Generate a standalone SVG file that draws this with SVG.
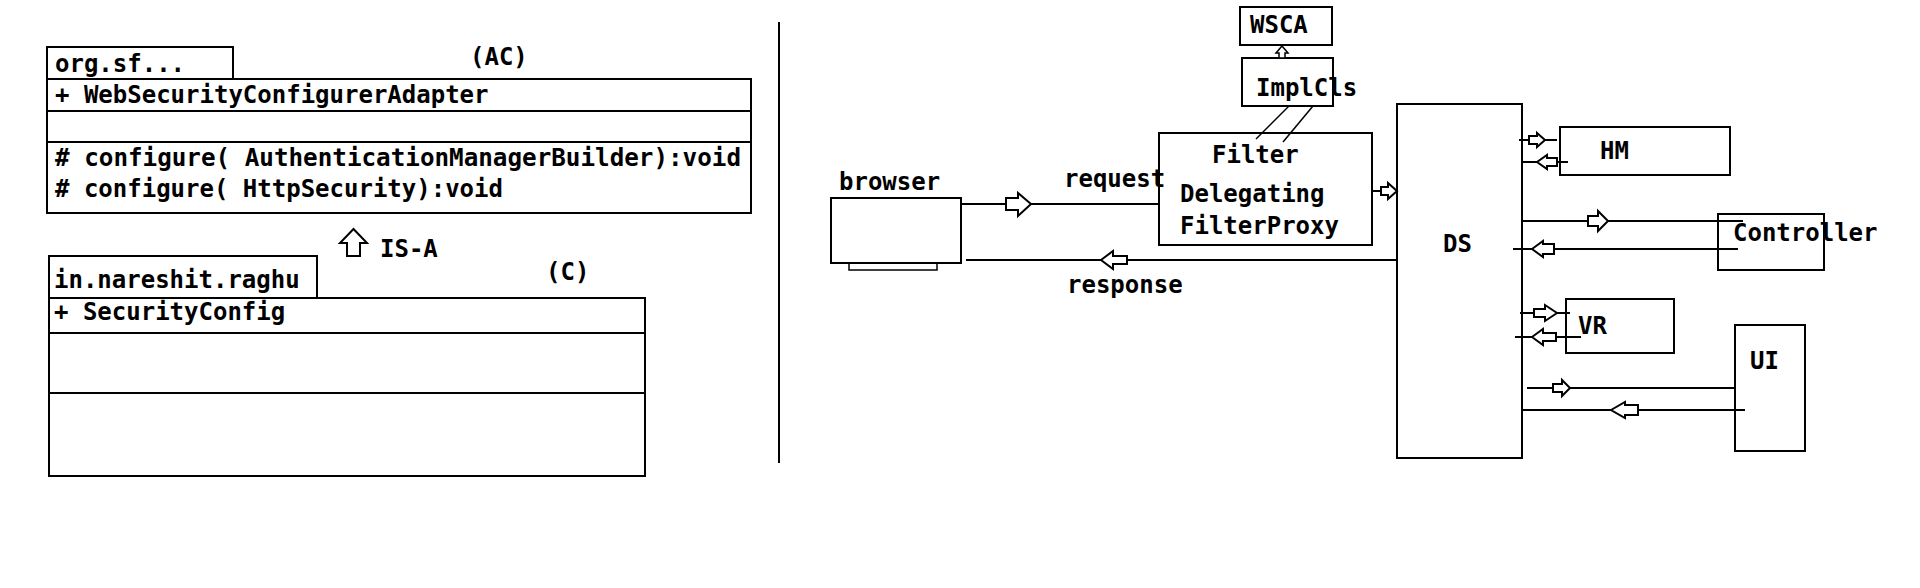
<svg xmlns="http://www.w3.org/2000/svg" width="1920" height="588" viewBox="0 0 1920 588">
<style>
  .box{fill:none;stroke:#000;stroke-width:2}
  .ln{stroke:#000;stroke-width:2;fill:none}
  .thin{stroke:#000;stroke-width:1.5;fill:none}
  .ha{fill:#fff;stroke:#000;stroke-width:2;stroke-linejoin:miter}
  text{font-family:"DejaVu Sans Mono","Liberation Mono",monospace;font-weight:bold;font-size:24px;fill:#000}
</style>
<rect width="1920" height="588" fill="#fff"/>

<g id="ac-class">
  <rect class="box" x="47" y="47" width="186" height="32"/>
  <text x="55" y="72">org.sf...</text>
  <rect class="box" x="47" y="79" width="704" height="134"/>
  <line class="ln" x1="47" y1="111" x2="751" y2="111"/>
  <line class="ln" x1="47" y1="142" x2="751" y2="142"/>
  <text x="55" y="103">+ WebSecurityConfigurerAdapter</text>
  <text x="55" y="166" textLength="686" lengthAdjust="spacingAndGlyphs"># configure( AuthenticationManagerBuilder):void</text>
  <text x="55" y="197"># configure( HttpSecurity):void</text>
  <text x="470" y="65">(AC)</text>
</g>

<g id="isa">
  <polygon class="ha" points="353.5,229 367,243 360,243 360,256 347,256 347,243 340,243"/>
  <text x="380" y="257">IS-A</text>
</g>

<g id="c-class">
  <rect class="box" x="49" y="256" width="268" height="42"/>
  <text x="54" y="288">in.nareshit.raghu</text>
  <rect class="box" x="49" y="298" width="596" height="178"/>
  <line class="ln" x1="49" y1="333" x2="645" y2="333"/>
  <line class="ln" x1="49" y1="393" x2="645" y2="393"/>
  <text x="54" y="320">+ SecurityConfig</text>
  <text x="546" y="280">(C)</text>
</g>

<g id="divider">
  <line class="ln" x1="779" y1="22" x2="779" y2="463"/>
</g>

<g id="browser">
  <rect class="box" x="831" y="198" width="130" height="65"/>
  <rect class="thin" x="849" y="263" width="88" height="7"/>
  <text x="839" y="190">browser</text>
</g>

<g id="wsca">
  <rect class="box" x="1240" y="7" width="92" height="38"/>
  <text x="1250" y="33">WSCA</text>
</g>

<g id="implcls">
  <rect class="box" x="1242" y="58" width="91" height="48"/>
  <text x="1256" y="96">ImplCls</text>
</g>

<g id="filter">
  <rect class="box" x="1159" y="133" width="213" height="112"/>
  <text x="1212" y="163">Filter</text>
  <text x="1180" y="202">Delegating</text>
  <text x="1180" y="234">FilterProxy</text>
</g>

<g id="ds">
  <rect class="box" x="1397" y="104" width="125" height="354"/>
  <text x="1443" y="252">DS</text>
</g>

<g id="hm">
  <rect class="box" x="1560" y="127" width="170" height="48"/>
  <text x="1600" y="159">HM</text>
</g>

<g id="controller">
  <rect class="box" x="1718" y="214" width="106" height="56"/>
  <text x="1733" y="241">Controller</text>
</g>

<g id="vr">
  <rect class="box" x="1566" y="299" width="108" height="54"/>
  <text x="1578" y="334">VR</text>
</g>

<g id="ui">
  <rect class="box" x="1735" y="325" width="70" height="126"/>
  <text x="1750" y="369">UI</text>
</g>

<g id="connectors">
  <polygon class="ha" points="1282,46 1288,53 1285,53 1285,58 1279,58 1279,53 1276,53" style="stroke-width:1.5"/>
  <line class="thin" x1="1289" y1="106" x2="1256" y2="139"/>
  <line class="thin" x1="1313" y1="106" x2="1283" y2="142"/>
  <line class="ln" x1="961" y1="204" x2="1159" y2="204"/>
  <polygon class="ha" points="1006,198 1018,198 1018,193 1031,204 1018,216 1018,210 1006,210"/>
  <text x="1064" y="187">request</text>
  <line class="ln" x1="966" y1="260" x2="1397" y2="260"/>
  <polygon class="ha" points="1101,260 1113,251 1113,256 1127,256 1127,264 1113,264 1113,269"/>
  <text x="1067" y="293">response</text>
  <line class="ln" x1="1372" y1="191" x2="1381" y2="191"/>
  <polygon class="ha" points="1381,187 1388,187 1388,183 1397,191 1388,199 1388,195 1381,195"/>
  <line class="ln" x1="1519" y1="140" x2="1557" y2="140"/>
  <polygon class="ha" points="1529,136 1537,136 1537,133 1545,140 1537,147 1537,144 1529,144"/>
  <line class="ln" x1="1521" y1="162" x2="1568" y2="162"/>
  <polygon class="ha" points="1537,162 1547,155 1547,158 1557,158 1557,166 1547,166 1547,169"/>
  <line class="ln" x1="1522" y1="221" x2="1743" y2="221"/>
  <polygon class="ha" points="1588,216 1598,216 1598,211 1608,221 1598,231 1598,226 1588,226"/>
  <line class="ln" x1="1513" y1="249" x2="1738" y2="249"/>
  <polygon class="ha" points="1532,249 1543,241 1543,244 1554,244 1554,254 1543,254 1543,257"/>
  <line class="ln" x1="1520" y1="313" x2="1570" y2="313"/>
  <polygon class="ha" points="1534,309 1545,309 1545,305 1557,313 1545,321 1545,317 1534,317"/>
  <line class="ln" x1="1515" y1="337" x2="1581" y2="337"/>
  <polygon class="ha" points="1532,337 1543,329 1543,333 1556,333 1556,341 1543,341 1543,345"/>
  <line class="ln" x1="1527" y1="388" x2="1735" y2="388"/>
  <polygon class="ha" points="1553,384 1562,384 1562,380 1570,388 1562,396 1562,392 1553,392"/>
  <line class="ln" x1="1521" y1="410" x2="1745" y2="410"/>
  <polygon class="ha" points="1611,410 1625,402 1625,405 1638,405 1638,415 1625,415 1625,418"/>
</g>
</svg>
